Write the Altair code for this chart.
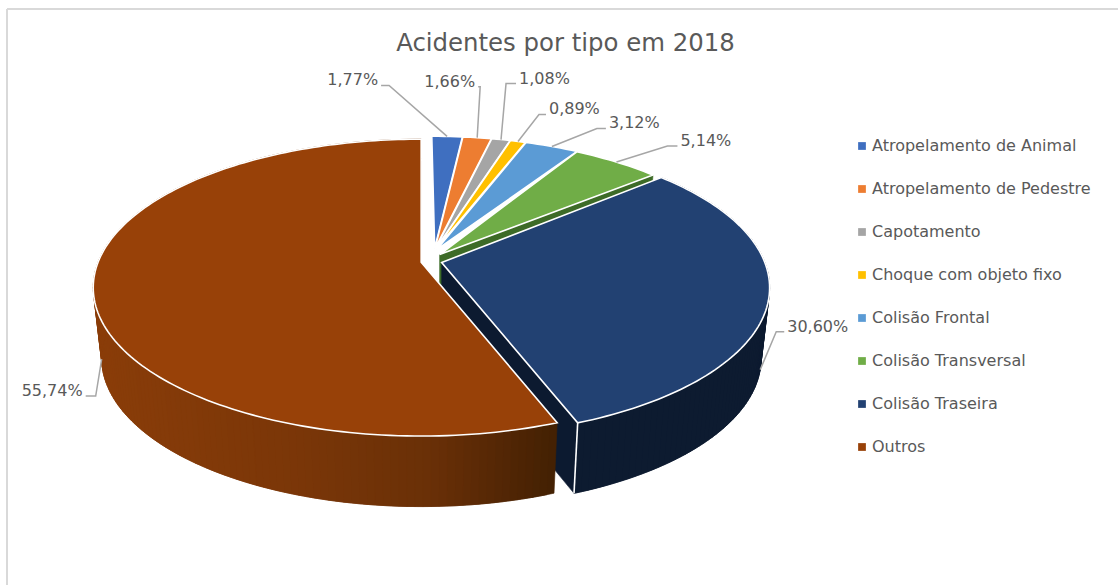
import math
import altair as alt

# Shares of accidents by type, 2018 (percent)
categories = ["Atropelamento de Animal", "Atropelamento de Pedestre", "Capotamento",
              "Choque com objeto fixo", "Colisão Frontal", "Colisão Transversal",
              "Colisão Traseira", "Outros"]
shares = [1.77, 1.66, 1.08, 0.89, 3.12, 5.14, 30.60, 55.74]
labels = ["1,77%", "1,66%", "1,08%", "0,89%", "3,12%", "5,14%", "30,60%", "55,74%"]
colors = ["#3f6fc0", "#ed7d31", "#a5a5a5", "#ffc000", "#5b9bd5", "#70ad47", "#224172", "#984108"]

W, H = 1118, 585

# Perspective disc: centre, half axes, foreshortening
CX, CY, RX, RY, K = 431.5, 261.5, 323.0, 144.0, 0.173
DEPTH, BOTTOM_SCALE = 70.5, 0.975
# How far each slice is pulled out of the disc
RIM_PULL_X = [5, 5, 5, 5, 5, 3, 10.5, 10.5]
RIM_PULL_Y = [2.5, 2.5, 2.5, 2.5, 2.5, 2.5, 2.5, 2.5]
APEX_PULL_X = [3, 3, 4, 4.5, 5, 8, 10.5, 10.5]
APEX_PULL_Y = [13, 13, 13, 13, 13, 9, 4, 4]

# Leader elbow offset from the anchor on the rim, run towards the label, and its side
LEADER_OFF = [(-58, -51), (3, -51), (5, -56), (21, -27), (45, -18), (51, -16), (16, -38), (-6, 37)]
LEADER_RUN = [8, 2, 10, 7, 9, 10, 8, 10]
LABEL_SIDE = [-1, -1, 1, 1, 1, 1, 1, -1]


def project(theta, ox=0.0, oy=0.0, bottom=False):
    u, v = math.sin(theta), math.cos(theta)
    den = 1 + K * v
    x = RX * u / den + ox
    y = -RY * v / den + oy
    if bottom:
        return [CX + x * BOTTOM_SCALE, CY + y + DEPTH]
    return [CX + x, CY + y]


def feature(ring, **props):
    return {"type": "Feature", "properties": props,
            "geometry": {"type": "Polygon", "coordinates": [ring + [ring[0]]]}}


def line(points):
    return {"type": "Feature", "properties": {},
            "geometry": {"type": "LineString", "coordinates": points}}


def shade(x):
    # Side wall of the largest slice darkens from left to right
    stops = [(90, (138, 61, 9)), (300, (122, 54, 8)), (430, (106, 48, 7)),
             (500, (84, 39, 5)), (560, (66, 32, 3))]
    for (x0, c0), (x1, c1) in zip(stops, stops[1:]):
        if x <= x1:
            t = max(0.0, (x - x0) / (x1 - x0))
            return "#%02x%02x%02x" % tuple(round(a + (b - a) * t) for a, b in zip(c0, c1))
    return "#%02x%02x%02x" % stops[-1][1]


tops, walls_blue, walls_brown, faces, leaders, texts, corner = [], [], [], [], [], [], []
start = 0.0
for i, share in enumerate(shares):
    a0 = start * 2 * math.pi / 100
    a1 = (start + share) * 2 * math.pi / 100
    mid = (a0 + a1) / 2
    start += share
    sm, cm = math.sin(mid), math.cos(mid)
    ox, oy = RIM_PULL_X[i] * sm, -RIM_PULL_Y[i] * cm
    apex = [CX + APEX_PULL_X[i] * sm + (3 if i < 6 else 0), CY - APEX_PULL_Y[i] * cm]
    steps = max(4, int(share * 3))
    angles = [a0 + (a1 - a0) * n / steps for n in range(steps + 1)]
    rim = [project(a, ox, oy) for a in angles]
    tops.append(feature([apex] + rim, name=categories[i]))

    if i >= 6:
        base = [project(a, ox, oy, True) for a in angles]
        for n in range(steps):
            # Neighbouring wall pieces overlap by one step so that no seams show
            m = min(n + 2, steps)
            quad = [rim[n]] + rim[n + 1:m + 1] + base[n:m + 1][::-1]
            if i == 6:
                walls_blue.append(feature(quad, color="#0d1b30"))
            else:
                walls_brown.append(feature(quad, color=shade((rim[n][0] + rim[n + 1][0]) / 2)))

    if i in (5, 6):
        apex_low = [apex[0], apex[1] + DEPTH]
        low = project(a1, ox, oy, True)
        faces.append(feature([apex, project(a1, ox, oy), low, apex_low],
                             color="#3d6b27" if i == 5 else "#0c1a30"))
    if i == 6:
        corner.append(line([project(a1, ox, oy), project(a1, ox, oy, True)]))

    # Leader: rim anchor, elbow, short run towards the label
    anchor = project(mid, ox, oy, i >= 6)
    elbow = [anchor[0] + LEADER_OFF[i][0], anchor[1] + LEADER_OFF[i][1]]
    end = [elbow[0] + LABEL_SIDE[i] * LEADER_RUN[i], elbow[1]]
    leaders.append(line([anchor, elbow, end]))
    texts.append({"lon": end[0] + LABEL_SIDE[i] * 3, "lat": end[1] - 5, "label": labels[i],
                  "side": "left" if LABEL_SIDE[i] > 0 else "right"})

projection = alt.Projection(type="identity", scale=1, translate=[0, 0])


def geo(features):
    return alt.Chart(alt.InlineData(values=features)).properties(projection=projection)


def solid(features):
    return geo(features).mark_geoshape(strokeWidth=0.6).encode(
        fill=alt.Fill("properties.color:N", scale=None, legend=None),
        stroke=alt.Stroke("properties.color:N", scale=None, legend=None),
    )


frame_left = alt.Chart(alt.Data(values=[{}])).mark_rule(color="#d9d9d9", strokeWidth=2).encode(
    x=alt.value(7), y=alt.value(9), y2=alt.value(H))
frame_top = alt.Chart(alt.Data(values=[{}])).mark_rule(color="#d9d9d9", strokeWidth=2).encode(
    x=alt.value(7), x2=alt.value(W), y=alt.value(9))

top_faces = geo(tops).mark_geoshape(stroke="white", strokeWidth=1.6).encode(
    fill=alt.Fill(
        "properties.name:N",
        sort=categories,
        scale=alt.Scale(domain=categories, range=colors),
        legend=alt.Legend(
            orient="none", legendX=854, legendY=138, title=None,
            symbolType="square", symbolSize=60, symbolStrokeWidth=0,
            labelFont="DejaVu Sans", labelFontSize=16, labelColor="#595959",
            labelOffset=2, rowPadding=27, labelLimit=300,
        ),
    )
)

corner_line = geo(corner).mark_geoshape(filled=False, stroke="white", strokeWidth=1.6)
leader_lines = geo(leaders).mark_geoshape(filled=False, stroke="#a6a6a6", strokeWidth=1.5)


def text_layer(side):
    rows = [t for t in texts if t["side"] == side]
    return alt.Chart(alt.Data(values=rows)).mark_text(
        font="DejaVu Sans", fontSize=16, color="#595959", align=side, baseline="middle",
    ).encode(longitude="lon:Q", latitude="lat:Q", text="label:N").properties(projection=projection)


chart = alt.layer(
    frame_left, frame_top,
    solid(faces), solid(walls_blue), corner_line, solid(walls_brown),
    top_faces, leader_lines, text_layer("left"), text_layer("right"),
).properties(
    width=W, height=H, padding=0, autosize="none",
    title=alt.TitleParams("Acidentes por tipo em 2018", font="DejaVu Sans", fontSize=24.4,
                          fontWeight="normal", color="#595959", anchor="middle",
                          frame="group", dx=6.5, dy=60),
).resolve_scale(fill="independent", stroke="independent").configure_view(stroke=None)

chart.save("out.html", embed_options={"renderer": "svg", "actions": False})
